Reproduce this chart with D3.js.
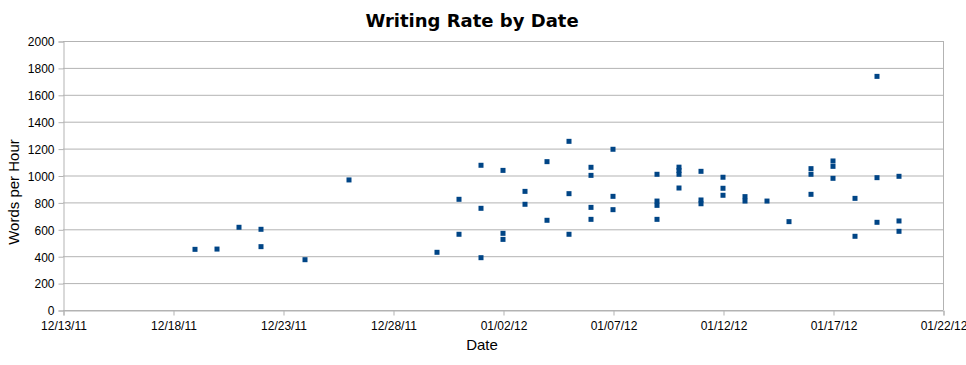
<!DOCTYPE html>
<html>
<head>
<meta charset="utf-8">
<script src="https://cdn.jsdelivr.net/npm/d3@7/dist/d3.min.js"></script>
<style>
  body { margin: 0; background: #fff; }
  svg { display: block; }
</style>
</head>
<body>
<svg id="chart" width="966" height="365"></svg>
<script>
// Data: dates and words-per-hour values
const dates = [
  "2011-12-19","2011-12-20","2011-12-21","2011-12-22","2011-12-22","2011-12-24","2011-12-26",
  "2011-12-30",
  "2011-12-31","2011-12-31",
  "2012-01-01","2012-01-01","2012-01-01",
  "2012-01-02","2012-01-02","2012-01-02",
  "2012-01-03","2012-01-03",
  "2012-01-04","2012-01-04",
  "2012-01-05","2012-01-05","2012-01-05",
  "2012-01-06","2012-01-06","2012-01-06","2012-01-06",
  "2012-01-07","2012-01-07","2012-01-07",
  "2012-01-09","2012-01-09","2012-01-09","2012-01-09",
  "2012-01-10","2012-01-10","2012-01-10","2012-01-10",
  "2012-01-11","2012-01-11","2012-01-11",
  "2012-01-12","2012-01-12","2012-01-12",
  "2012-01-13","2012-01-13",
  "2012-01-14",
  "2012-01-15",
  "2012-01-16","2012-01-16","2012-01-16",
  "2012-01-17","2012-01-17","2012-01-17",
  "2012-01-18","2012-01-18",
  "2012-01-19","2012-01-19","2012-01-19",
  "2012-01-20","2012-01-20","2012-01-20"
];
const wordsPerHour = [
  451, 453, 615, 600, 471, 374, 967,
  429,
  823, 563,
  1076, 756, 389,
  1038, 570, 525,
  882, 786,
  1103, 667,
  1254, 865, 563,
  1061, 1001, 763, 674,
  1195, 845, 746,
  1009, 810, 778, 674,
  1062, 1037, 1009, 907,
  1031, 818, 790,
  987, 905, 853,
  843, 810,
  810,
  657,
  1051, 1009, 860,
  1108, 1068, 979,
  830, 548,
  1737, 984, 652,
  994, 662, 585
];
const xTickLabels = ["12/13/11","12/18/11","12/23/11","12/28/11","01/02/12","01/07/12","01/12/12","01/17/12","01/22/12"];
const yTicks = [0,200,400,600,800,1000,1200,1400,1600,1800,2000];

const parse = d3.timeParse("%Y-%m-%d");
const fmt = d3.timeFormat("%m/%d/%y");
const points = dates.map((d, i) => ({ date: parse(d), v: wordsPerHour[i] }));
const xTickDates = xTickLabels.map(s => d3.timeParse("%m/%d/%y")(s));

const pL = 63, pR = 943, pT = 41, pB = 310;
const svg = d3.select("#chart");

const x = d3.scaleTime().domain([xTickDates[0], xTickDates[xTickDates.length - 1]]).range([pL, pR]);
const y = d3.scaleLinear().domain([0, 2000]).range([pB, pT]);

const gridColor = "#b3b3b3";

// horizontal gridlines
svg.append("g").selectAll("line").data(yTicks).join("line")
  .attr("x1", pL).attr("x2", pR)
  .attr("y1", d => y(d) + 0.5).attr("y2", d => y(d) + 0.5)
  .attr("stroke", gridColor).attr("stroke-width", 1);

// right border
svg.append("line").attr("x1", pR + 0.5).attr("x2", pR + 0.5)
  .attr("y1", pT).attr("y2", pB).attr("stroke", gridColor);

// y axis
const yAxis = d3.axisLeft(y).tickValues(yTicks).tickSize(5).tickPadding(4).tickFormat(d3.format("d"));
const gy = svg.append("g").attr("transform", `translate(${pL + 0.5},0.5)`).call(yAxis);
gy.select(".domain").attr("stroke", gridColor);
gy.selectAll(".tick line").attr("stroke", gridColor);
gy.selectAll("text").attr("font-family", "Liberation Sans, Arial, sans-serif")
  .attr("font-size", 12).attr("fill", "#000").attr("dy", "0.36em").attr("x", -9);

// x axis
const xAxis = d3.axisBottom(x).tickValues(xTickDates).tickSize(5).tickPadding(4).tickFormat(fmt);
const gx = svg.append("g").attr("transform", `translate(0.5,${pB + 0.5})`).call(xAxis);
gx.select(".domain").attr("stroke", gridColor);
gx.selectAll(".tick line").attr("stroke", gridColor);
gx.selectAll("text").attr("font-family", "Liberation Sans, Arial, sans-serif")
  .attr("font-size", 12).attr("fill", "#000").attr("y", 11).attr("dy", "0.71em");

// points
svg.append("g").selectAll("rect").data(points).join("rect")
  .attr("x", d => x(d.date) - 2.5)
  .attr("y", d => y(d.v) - 2.5)
  .attr("width", 5).attr("height", 5)
  .attr("fill", "#004586");

// title
svg.append("text").attr("x", 472).attr("y", 27)
  .attr("text-anchor", "middle")
  .attr("font-family", "DejaVu Sans, sans-serif")
  .attr("font-weight", "bold").attr("font-size", 18)
  .text("Writing Rate by Date");

// axis titles
svg.append("text").attr("x", 482).attr("y", 350)
  .attr("text-anchor", "middle")
  .attr("font-family", "Liberation Sans, Arial, sans-serif")
  .attr("font-size", 15).text("Date");

svg.append("text")
  .attr("transform", "translate(19,192) rotate(-90)")
  .attr("text-anchor", "middle")
  .attr("font-family", "Liberation Sans, Arial, sans-serif")
  .attr("font-size", 15).text("Words per Hour");
</script>
</body>
</html>
